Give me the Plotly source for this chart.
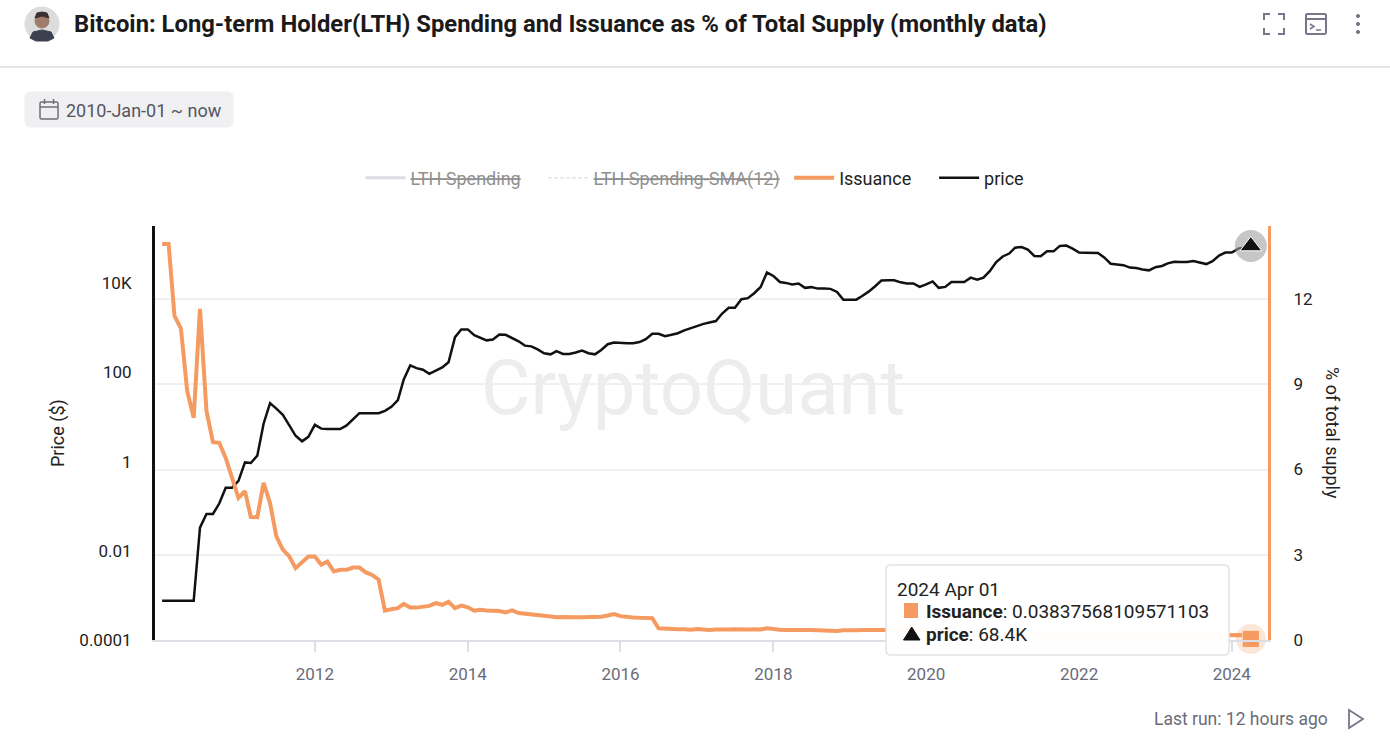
import pandas as pd
import plotly.graph_objects as go

# ---- data (monthly) ----
months = pd.date_range("2010-01-01", "2024-04-01", freq="MS")

price = [
    # 2010
    0.00076, 0.00076, 0.00076, 0.00076, 0.00076, 0.00076, 0.033, 0.067, 0.067, 0.115, 0.26, 0.26,
    # 2011
    0.37, 0.96, 0.93, 1.36, 7.1, 20.5, 15.5, 11.2, 6.5, 3.8, 2.86, 3.6,
    # 2012
    6.7, 5.5, 5.4, 5.4, 5.4, 6.5, 9.0, 12.2, 12.2, 12.2, 12.2, 13.8,
    # 2013
    17, 24, 70, 144, 125, 115, 93, 110, 130, 170, 620, 925,
    # 2014
    925, 690, 600, 525, 550, 710, 700, 600, 500, 400, 385, 330,
    # 2015
    270, 255, 300, 260, 260, 280, 310, 270, 255, 320, 430, 470,
    # 2016
    455, 455, 455, 480, 560, 740, 740, 650, 700, 760, 880, 990,
    # 2017
    1100, 1230, 1320, 1420, 2100, 2830, 2830, 4400, 4650, 6000, 8300, 17400,
    # 2018
    14600, 10700, 10200, 9400, 9900, 7900, 8200, 7600, 7600, 7500, 6400, 4300,
    # 2019
    4300, 4300, 5200, 6500, 8500, 11500, 11700, 11700, 10500, 9900, 9900, 8300,
    # 2020
    9500, 11000, 7900, 8300, 10700, 10700, 10700, 13400, 12100, 13400, 19000, 30000,
    # 2021
    40000, 46500, 63000, 65000, 57000, 41000, 40500, 52000, 52000, 69000, 70000, 60000,
    # 2022
    49000, 48500, 48500, 48000, 38000, 27500, 26500, 25500, 22500, 22000, 20500, 19500,
    # 2023
    23000, 24500, 28000, 30500, 30000, 30000, 31500, 29500, 27000, 31500, 42000, 49000,
    # 2024
    49000, 60000, 63000, 68400,
]

issuance = [
    # 2010
    13.94, 13.94, 11.41, 10.96, 8.76, 7.82, 11.65, 8.06, 6.96, 6.94, 6.41, 5.7,
    # 2011
    5.0, 5.24, 4.33, 4.32, 5.53, 4.82, 3.65, 3.18, 2.94, 2.53, 2.73, 2.94,
    # 2012
    2.94, 2.65, 2.76, 2.41, 2.47, 2.47, 2.55, 2.55, 2.38, 2.29, 2.12, 1.03,
    # 2013
    1.08, 1.12, 1.27, 1.14, 1.14, 1.17, 1.2, 1.3, 1.24, 1.34, 1.12, 1.21,
    # 2014
    1.15, 1.03, 1.06, 1.04, 1.03, 1.02, 0.97, 1.04, 0.95, 0.92, 0.88, 0.86,
    # 2015
    0.85, 0.83, 0.80, 0.81, 0.79, 0.80, 0.80, 0.80, 0.80, 0.82, 0.86, 0.91,
    # 2016
    0.84, 0.80, 0.79, 0.78, 0.78, 0.77, 0.41, 0.39, 0.38, 0.38, 0.38, 0.36,
    # 2017
    0.39, 0.37, 0.35, 0.37, 0.36, 0.37, 0.38, 0.36, 0.37, 0.38, 0.37, 0.41,
    # 2018
    0.37, 0.36, 0.35, 0.36, 0.35, 0.35, 0.35, 0.34, 0.34, 0.33, 0.32, 0.34,
    # 2019
    0.33, 0.34, 0.35, 0.34, 0.35, 0.35, 0.35, 0.35, 0.34, 0.35, 0.34, 0.35,
    # 2020
    0.34, 0.33, 0.34, 0.34, 0.19, 0.17, 0.17, 0.18, 0.17, 0.17, 0.18, 0.17,
    # 2021
    0.17, 0.16, 0.18, 0.17, 0.17, 0.17, 0.18, 0.17, 0.17, 0.18, 0.17, 0.17,
    # 2022
    0.17, 0.16, 0.17, 0.17, 0.18, 0.17, 0.17, 0.17, 0.18, 0.17, 0.17, 0.17,
    # 2023
    0.17, 0.16, 0.17, 0.17, 0.17, 0.18, 0.17, 0.17, 0.17, 0.17, 0.18, 0.18,
    # 2024
    0.18, 0.17, 0.18, 0.03837568109571103,
]

# hidden (legend-only) series: switched off in the reference, so no values are visible
lth_spending = [None]
lth_spending_sma = [None]

price_ticks = [1e-4, 1e-2, 1, 100, 1e4]
price_tick_text = ["0.0001", "0.01", "1", "100", "10K"]
supply_ticks = [0, 3, 6, 9, 12]
year_ticks = [f"{y}-01-01" for y in range(2012, 2025, 2)]
year_text = [str(y) for y in range(2012, 2025, 2)]

# ---- page geometry ----
W, H = 1390, 740
L, R, T, B = 155, 122, 226, 100
PW, PH = W - L - R, H - T - B
FONT = "Roboto"
ORANGE = "#f59b62"
GREY = "#6b6b78"
ICON = "#77778a"
GAP = "&nbsp;"


def ax(x):
    return (x - L) / PW


def ay(y):
    return (H - B - y) / PH


def label(x, y, s, size=17, color="#222", xanchor="left", angle=0):
    return dict(x=ax(x), y=ay(y), xref="paper", yref="paper", text=s, showarrow=False,
                xanchor=xanchor, yanchor="middle", textangle=angle,
                font=dict(family=FONT, size=size, color=color))


def line(x0, y0, x1, y1, color, width=2):
    return dict(type="line", xref="paper", yref="paper", x0=ax(x0), y0=ay(y0),
                x1=ax(x1), y1=ay(y1), line=dict(color=color, width=width))


def poly(points, color, width=2, fill=None, close=False):
    d = "M" + " L".join(f"{ax(x):.5f},{ay(y):.5f}" for x, y in points)
    if close:
        d += " Z"
    return dict(type="path", xref="paper", yref="paper", path=d,
                line=dict(color=color, width=width), fillcolor=fill)


def circle(cx, cy, r, fill, color=None):
    return dict(type="circle", xref="paper", yref="paper",
                x0=ax(cx - r), y0=ay(cy + r), x1=ax(cx + r), y1=ay(cy - r),
                fillcolor=fill, line=dict(color=color or fill, width=1))


def rounded(x0, y0, x1, y1, r, fill, color=None, width=1):
    p = lambda x, y: f"{ax(x):.5f},{ay(y):.5f}"
    d = (f"M{p(x0 + r, y0)} L{p(x1 - r, y0)} Q{p(x1, y0)} {p(x1, y0 + r)} "
         f"L{p(x1, y1 - r)} Q{p(x1, y1)} {p(x1 - r, y1)} L{p(x0 + r, y1)} "
         f"Q{p(x0, y1)} {p(x0, y1 - r)} L{p(x0, y0 + r)} Q{p(x0, y0)} {p(x0 + r, y0)} Z")
    return dict(type="path", xref="paper", yref="paper", path=d, fillcolor=fill,
                line=dict(color=color or fill, width=width))


fig = go.Figure()

fig.add_trace(go.Scatter(x=months[:1], y=lth_spending, name="<s>LTH Spending</s>" + GAP * 4,
                         visible="legendonly", mode="lines",
                         line=dict(color="#b9b9c6", width=3)))
fig.add_trace(go.Scatter(x=months[:1], y=lth_spending_sma, name="<s>LTH Spending-SMA(12)</s>" + GAP,
                         visible="legendonly", mode="lines",
                         line=dict(color="#b9b9c6", width=1.5, dash="dot")))
fig.add_trace(go.Scatter(x=months, y=issuance, name="Issuance" + GAP * 4, yaxis="y2", mode="lines",
                         line=dict(color=ORANGE, width=4)))
fig.add_trace(go.Scatter(x=months, y=price, name="price", mode="lines",
                         line=dict(color="#111111", width=2.5)))

# highlighted last points (hover state in the reference)
fig.add_trace(go.Scatter(x=[months[-1]], y=[price[-1]], mode="markers", showlegend=False,
                         cliponaxis=False,
                         marker=dict(symbol="circle", size=32, color="rgba(160,160,160,0.6)")))
fig.add_trace(go.Scatter(x=[months[-1]], y=[price[-1]], mode="markers", showlegend=False,
                         cliponaxis=False,
                         marker=dict(symbol="triangle-up", size=19, color="#111",
                                     line=dict(color="white", width=1))))
fig.add_trace(go.Scatter(x=[months[-1]], y=[issuance[-1]], yaxis="y2", mode="markers",
                         showlegend=False, cliponaxis=False,
                         marker=dict(symbol="circle", size=30, color="rgba(245,155,98,0.25)")))
fig.add_trace(go.Scatter(x=[months[-1]], y=[issuance[-1]], yaxis="y2", mode="markers",
                         showlegend=False, cliponaxis=False,
                         marker=dict(symbol="square", size=17, color=ORANGE,
                                     line=dict(color="rgba(255,255,255,0.5)", width=1))))

shapes = [
    # header
    line(0, 67, W, 67, "#e4e4e9", 2),
    circle(42, 24, 17, "#dcdcdc"),
    poly([(30, 38), (33, 32), (42, 30), (51, 32), (54, 38), (48, 41), (36, 41)], "#3b4150", 1, "#3b4150", True),
    circle(42, 21, 7, "#a07e6b"),
    poly([(35, 18), (37, 13), (42, 12), (47, 13), (49, 18), (42, 16)], "#3a3030", 1, "#3a3030", True),
    # toolbar icons
    poly([(1264, 20), (1264, 14), (1270, 14)], ICON),
    poly([(1278, 14), (1284, 14), (1284, 20)], ICON),
    poly([(1264, 28), (1264, 34), (1270, 34)], ICON),
    poly([(1278, 34), (1284, 34), (1284, 28)], ICON),
    rounded(1306, 14, 1326, 34, 1.5, "rgba(0,0,0,0)", ICON, 2),
    line(1306, 19, 1326, 19, ICON, 2),
    poly([(1310, 24), (1314, 26.5), (1310, 29)], ICON, 1.5),
    line(1316, 30, 1321, 30, ICON, 1.5),
    circle(1358, 16, 1.6, ICON),
    circle(1358, 24, 1.6, ICON),
    circle(1358, 32, 1.6, ICON),
    # date chip
    rounded(25, 92, 233, 127, 6, "#f0f0f3"),
    rounded(40, 102, 58, 119, 1.5, "rgba(0,0,0,0)", "#6e6e7a", 1.5),
    line(40, 107, 58, 107, "#6e6e7a", 1.5),
    line(44.5, 99, 44.5, 104, "#6e6e7a", 1.5),
    line(53.5, 99, 53.5, 104, "#6e6e7a", 1.5),
    # tooltip box and its series keys
    rounded(886, 565, 1229, 655, 5, "rgba(255,255,255,0.97)", "#e2e2e8", 1.5),
    dict(type="rect", xref="paper", yref="paper", x0=ax(904), x1=ax(918), y0=ay(618), y1=ay(603),
         fillcolor=ORANGE, line=dict(width=0)),
    poly([(903.5, 640), (911.7, 627), (920, 640)], "#111", 1, "#111", True),
    # play icon
    poly([(1349, 710), (1363, 719), (1349, 728)], ICON, 1.8, close=True),
]

annotations = [
    label(72, 24, "<b>Bitcoin: Long-term Holder(LTH) Spending and Issuance as % of Total Supply (monthly data)</b>",
          size=23.8, color="#1a1a1a"),
    label(64, 110, "2010-Jan-01 ~ now", size=18, color="#555560"),
    label(693, 388, "CryptoQuant", size=76, color="#ededf0", xanchor="center"),
    label(58, 433, "Price ($)", size=18, color="#222", xanchor="center", angle=-90),
    label(1333, 433, "% of total supply", size=18, color="#222", xanchor="center", angle=90),
    label(895, 589, months[-1].strftime("%Y %b %d"), size=19, color="#222"),
    label(924, 611, f"<b>Issuance</b>: {issuance[-1]}", size=19, color="#222"),
    label(924, 634, f"<b>price</b>: {price[-1] / 1000:.1f}K", size=19, color="#222"),
    label(1330, 719, "Last run: 12 hours ago", size=17.5, color=GREY, xanchor="right"),
]

x_left = months[0] - pd.Timedelta(days=34)
x_right = months[-1] + pd.Timedelta(days=82)

fig.update_layout(
    width=W, height=H,
    margin=dict(l=L, r=R, t=T, b=B),
    paper_bgcolor="white", plot_bgcolor="white",
    font=dict(family=FONT, size=17, color="#222"),
    hovermode=False,
    showlegend=True,
    legend=dict(orientation="h", xref="container", yref="container",
                x=0.5, xanchor="center", y=1 - 178 / H, yanchor="middle",
                font=dict(size=18, color="#222"), itemwidth=40,
                bgcolor="rgba(0,0,0,0)"),
    xaxis=dict(range=[x_left, x_right], tickvals=year_ticks, ticktext=year_text,
               showgrid=False, zeroline=False, showline=True, linecolor="#dedee6", linewidth=2,
               ticks="outside", ticklen=10, tickwidth=2, tickcolor="#dedee6",
               ticklabelstandoff=8, tickfont=dict(size=17, color=GREY)),
    yaxis=dict(type="log", range=[-4, 5.285], tickvals=price_ticks, ticktext=price_tick_text,
               showgrid=False, zeroline=False, showline=True, linecolor="#111", linewidth=3,
               ticks="", ticklabelstandoff=17, tickfont=dict(size=17, color="#222")),
    yaxis2=dict(overlaying="y", side="right", range=[0, 14.57], tickvals=supply_ticks,
                showgrid=True, gridcolor="#f0f0f3", gridwidth=1.5, zeroline=False,
                showline=True, linecolor=ORANGE, linewidth=3,
                ticks="", ticklabelstandoff=19, tickfont=dict(size=17, color="#222")),
    shapes=shapes,
    annotations=annotations,
)

fig.write_html("out.html", config={"displayModeBar": False},
               post_script="document.body.style.margin='0';document.body.style.overflow='hidden';")
